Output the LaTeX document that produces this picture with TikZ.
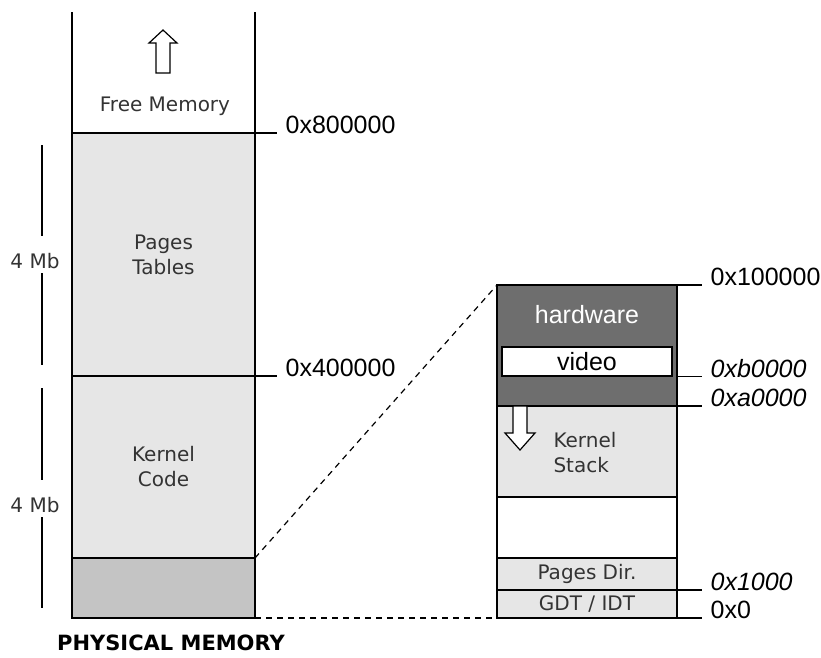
\documentclass[tikz,border=0pt]{standalone}
\usepackage{fontspec}
\setmainfont{DejaVu Sans}
\newfontfamily\hexfont{Liberation Sans}
\definecolor{memlight}{HTML}{E6E6E6}
\definecolor{memmid}{HTML}{C4C4C4}
\definecolor{memdark}{HTML}{6E6E6E}
\definecolor{txtgray}{HTML}{333333}

\begin{document}
\begin{tikzpicture}[x=1pt, y=-1pt,
		every node/.style={font=\fontsize{20}{25}\selectfont, text=txtgray, align=center},
		region/.style={draw, line width=1.5pt, inner sep=0pt, outer sep=0pt},
		leftcol/.style={region, minimum width=183pt},
		rightcol/.style={region, minimum width=180pt},
		wall/.style={line width=1.5pt},
		tick/.style={line width=1.2pt},
		hexlbl/.style={anchor=west, inner sep=0pt, xshift=8pt, yshift=8pt, text=black,
			font=\hexfont\fontsize{25}{27}\selectfont},
		hexit/.style={hexlbl, font=\hexfont\itshape\fontsize{25}{27}\selectfont},
		hollow/.style={draw, fill=white, line width=1.2pt, line join=miter},
		zoomline/.style={line width=1.2pt, dash pattern=on 6pt off 5pt},
		bar/.style={line width=1.5pt}]
		\useasboundingbox (0,0) rectangle (821,657);

		% physical memory column
		\node[leftcol, fill=memlight, minimum height=243pt] (tables) at (163.5,254.5) {Pages\\Tables};
		\node[leftcol, fill=memlight, minimum height=182pt] (kcode) at (163.5,467) {Kernel\\Code};
		\node[leftcol, fill=memmid, minimum height=60pt] (low) at (163.5,588) {};
		\draw[wall] (tables.north west) -- ++(0,-121);
		\draw[wall] (tables.north east) -- ++(0,-121);
		\node (freetxt) at (165,106) {Free Memory};
		\coordinate (uptip) at (163,30);
		\draw[hollow] (uptip) -- ++(14,13) -- ++(-7,0) -- ++(0,30) -- ++(-14,0) -- ++(0,-30) -- ++(-7,0) -- cycle;

		% sizes
		\node (mbhi) at (35,261) {4 Mb};
		\draw[bar] (42,145) -- (42,236);
		\draw[bar] (42,273) -- (42,365);
		\node (mblo) at (35,505) {4 Mb};
		\draw[bar] (42,388) -- (42,480);
		\draw[bar] (42,517) -- (42,608);

		% first megabyte
		\node[rightcol, fill=memdark, minimum height=121pt] (hw) at (587,345.5) {};
		\node[text=white, font=\hexfont\fontsize{25}{27}\selectfont] (hwtxt) at (587,315) {hardware};
		\node[draw, fill=white, line width=1.2pt, inner sep=0pt, minimum width=170pt, minimum height=29pt,
			text=black, font=\hexfont\fontsize{25}{27}\selectfont] (video) at (587,361.5) {video};
		\node[rightcol, fill=memlight, minimum height=91pt] (kstack) at (587,451.5) {};
		\node[anchor=west, align=left] (stacktxt) at (550,453) {Kernel\\Stack};
		\coordinate (downtip) at (520,450);
		\draw[hollow] (downtip) -- ++(15,-17) -- ++(-8,0) -- ++(0,-27) -- ++(-14,0) -- ++(0,27) -- ++(-8,0) -- cycle;
		\node[rightcol, fill=white, minimum height=61pt] (gap) at (587,527.5) {};
		\node[rightcol, fill=memlight, minimum height=32pt] (pdir) at (587,574) {Pages Dir.};
		\node[rightcol, fill=memlight, minimum height=28pt] (gdt) at (587,604) {GDT / IDT};

		% addresses
		\draw[tick] (tables.north east) -- ++(22,0) node[hexlbl] {0x800000};
		\draw[tick] (kcode.north east) -- ++(22,0) node[hexlbl] {0x400000};
		\draw[tick] (hw.north east) -- ++(25,0) node[hexlbl] {0x100000};
		\draw[tick] (video.south -| hw.east) -- ++(25,0) node[hexit] {0xb0000};
		\draw[tick] (hw.south east) -- ++(25,0) node[hexit] {0xa0000};
		\draw[tick] (gdt.north east) -- ++(25,0) node[hexit] {0x1000};
		\draw[tick] (gdt.south east) -- ++(25,0) node[hexlbl] {0x0};

		% zoom
		\draw[zoomline] (low.north east) -- (hw.north west);
		\draw[zoomline] (low.south east) -- (gdt.south west);

		\node[text=black, font=\bfseries\fontsize{21}{24}\selectfont] (title) at (171,643) {PHYSICAL MEMORY};
	\end{tikzpicture}
\end{document}
